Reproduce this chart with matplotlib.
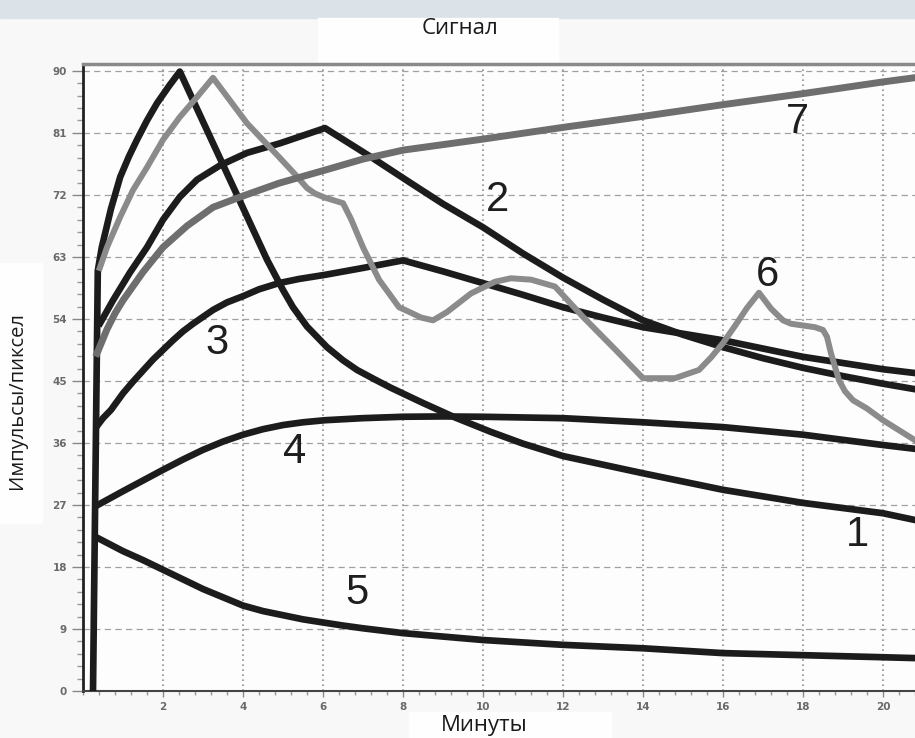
import matplotlib.pyplot as plt
from matplotlib.patches import Rectangle
from matplotlib.ticker import MultipleLocator

# curve 1 - fast peak
x1 = [0.25, 0.37, 0.47, 0.7, 0.93, 1.15, 1.35, 1.6, 1.85, 2.15, 2.42, 3.25, 3.93, 4.6, 5.0, 5.25, 5.6, 6.1, 6.5, 6.85,
      7.3, 7.7, 8.5, 9.3, 10.2, 11, 12, 14, 16, 18, 20, 21.3]
y1 = [0, 61, 64.4, 70, 74.6, 77.6, 80, 82.8, 85.3, 87.8, 89.9, 79.5, 71, 62.6, 58.2, 55.7, 52.9, 49.9, 48, 46.6,
      45.2, 44, 41.8, 39.7, 37.6, 35.9, 34.1, 31.6, 29.2, 27.3, 25.8, 24.2]

# curve 2
x2 = [0.43, 0.75, 1.17, 1.6, 2.0, 2.42, 2.85, 3.43, 4.1, 4.93, 6.05, 7.2, 8.2, 9, 10, 11, 12, 13, 14, 15, 16, 17, 18,
      19, 20, 21.3]
y2 = [53.4, 56.7, 60.7, 64.4, 68.4, 71.7, 74.2, 76.3, 78.1, 79.5, 81.7, 77.5, 73.7, 70.7, 67.3, 63.5, 60, 56.8, 53.8,
      51.7, 49.9, 48.3, 46.9, 45.7, 44.6, 43.3]

# curve 3
x3 = [0.37, 0.5, 0.7, 1.0, 1.25, 1.5, 1.75, 2.0, 2.25, 2.5, 2.75, 3.25, 3.6, 4, 4.4, 4.9, 5.4, 6.05, 7, 8.0, 9, 10, 11,
      12, 13, 14, 16, 18, 20, 21.3]
y3 = [38.6, 39.6, 40.8, 43.2, 44.9, 46.5, 48.1, 49.5, 50.9, 52.2, 53.3, 55.3, 56.4, 57.3, 58.3, 59.2, 59.8, 60.4, 61.4,
      62.5, 60.9, 59.2, 57.5, 55.7, 54.2, 52.8, 50.9, 48.5, 46.7, 45.8]

# curve 4
x4 = [0.37, 1, 2, 2.5, 3, 3.5, 4, 4.5, 5, 5.5, 6.05, 7, 8, 9, 10, 12, 14, 16, 18, 20, 21.3]
y4 = [27, 29, 32.1, 33.6, 35, 36.2, 37.2, 38.0, 38.6, 39, 39.3, 39.6, 39.8, 39.85, 39.8, 39.6, 39, 38.3, 37.2, 35.7,
      34.8]

# curve 5
x5 = [0.37, 1, 1.5, 2, 2.5, 3, 3.5, 4, 4.5, 5, 5.5, 6.05, 6.5, 7, 8, 9, 10, 12, 14, 16, 18, 20, 21.3]
y5 = [22.2, 20.3, 19, 17.6, 16.2, 14.8, 13.6, 12.4, 11.6, 11.0, 10.4, 9.9, 9.5, 9.1, 8.4, 7.9, 7.4, 6.7, 6.2, 5.5,
      5.2, 4.9, 4.7]

# curve 6 (light gray)
x6 = [0.42, 0.6, 0.93, 1.25, 1.6, 2.0, 2.42, 2.85, 3.25, 4.1, 4.9, 5.3, 5.6, 5.8, 6.05, 6.5, 6.7, 7.0, 7.4, 7.9, 8.2,
      8.45, 8.75, 9.1, 9.7, 10.3, 10.7, 11.2, 11.8, 12.5, 13.3, 14, 14.8, 15.4, 15.7, 16, 16.3, 16.6, 16.9, 17.2,
      17.5, 17.7, 18.3, 18.5, 18.6, 18.7, 18.9, 19.05, 19.25, 19.6, 20, 20.8, 21.3]
y6 = [61.4, 64.4, 68.8, 72.7, 76, 80, 83.3, 86.2, 89, 82.4, 77.5, 75, 73, 72.2, 71.6, 70.8, 68.5, 64.4, 59.7, 55.7, 54.9,
      54.2, 53.8, 55, 57.7, 59.4, 59.9, 59.7, 58.7, 54.3, 49.6, 45.4, 45.4, 46.6, 48.4, 50.5, 53, 55.6, 57.8, 55.5,
      53.8, 53.3, 52.8, 52.4, 51.4, 49, 45.1, 43.5, 42.2, 41, 39.3, 36.4, 35.2]

# curve 7 (dark gray)
x7 = [0.35, 0.6, 0.8, 1, 1.5, 2, 2.6, 3.25, 3.93, 4.9, 6.05, 7, 8, 10, 12, 14, 16, 18, 20, 21.3]
y7 = [49, 52.5, 54.8, 56.7, 60.8, 64.4, 67.5, 70.2, 71.7, 73.7, 75.6, 77.2, 78.5, 80.1, 81.8, 83.4, 85.1, 86.7,
      88.4, 89.4]

curve_labels = ['1', '2', '3', '4', '5', '6', '7']
label_x = [19.35, 10.35, 3.35, 5.3, 6.85, 17.1, 17.85]
label_y = [22.6, 71.3, 50.5, 34.7, 14.2, 60.4, 82.6]

fig = plt.figure(figsize=(9.15, 7.38), dpi=100, facecolor='#f8f8f8')

# header strip and white boxes behind the captions
fig.patches.append(Rectangle((0, 1 - 18 / 738), 1, 18 / 738, transform=fig.transFigure,
                             color='#dbe3e9', zorder=-2))
fig.patches.append(Rectangle((318 / 915, 1 - 62 / 738), 240 / 915, 44 / 738, transform=fig.transFigure,
                             color='#fefefe', zorder=-2))
fig.patches.append(Rectangle((0, 1 - 523 / 738), 42 / 915, 260 / 738, transform=fig.transFigure,
                             color='#fefefe', zorder=-2))
fig.patches.append(Rectangle((409 / 915, 0), 202 / 915, 26 / 738, transform=fig.transFigure,
                             color='#fefefe', zorder=-2))

ax = fig.add_axes([83 / 915, 47 / 738, 852 / 915, 627 / 738])
ax.set_facecolor('#fdfdfd')

black = '#1c1c1c'
ax.plot(x1, y1, color=black, lw=4.8, zorder=3)
ax.plot(x2, y2, color=black, lw=4.8, zorder=3)
ax.plot(x3, y3, color=black, lw=4.8, zorder=3)
ax.plot(x4, y4, color=black, lw=4.8, zorder=3)
ax.plot(x5, y5, color=black, lw=4.8, zorder=3)
ax.plot(x6, y6, color='#8b8b8b', lw=4.3, zorder=4)
ax.plot(x7, y7, color='#6e6e6e', lw=5.0, zorder=4)

for t, lx, ly in zip(curve_labels, label_x, label_y):
    ax.text(lx, ly, t, fontsize=30, family='Liberation Sans', color='#1e1e1e',
            ha='center', va='center', zorder=5)

ax.set_xlim(0, 21.3)
ax.set_ylim(0, 91)

ax.xaxis.set_minor_locator(MultipleLocator(0.4))
ax.yaxis.set_major_locator(MultipleLocator(9))
ax.yaxis.set_minor_locator(MultipleLocator(1.8))

ax.set_xticks(range(2, 22, 2))
ax.set_xticklabels([str(v) for v in range(2, 22, 2)])

ax.tick_params(axis='both', which='major', labelsize=7.5, labelcolor='#6a6a6a', color='#888888')
ax.tick_params(axis='y', which='major', length=8, width=1)
ax.tick_params(axis='y', which='minor', length=4, width=1, color='#999999')
ax.tick_params(axis='x', which='major', length=4, width=1, pad=4)
ax.tick_params(axis='x', which='minor', length=3, width=1, color='#999999')
for lab in ax.get_xticklabels() + ax.get_yticklabels():
    lab.set_fontweight('bold')

ax.grid(True, axis='y', which='major', color='#a0a0a0', lw=0.9, linestyle=(0, (5, 3.5)))
ax.grid(True, axis='x', which='major', color='#909090', lw=1.2, linestyle=(0, (1, 2)))
ax.set_axisbelow(True)

ax.spines['left'].set_color('#222222')
ax.spines['left'].set_linewidth(2)
ax.spines['top'].set_color('#8a8a8a')
ax.spines['top'].set_linewidth(2.5)
ax.spines['bottom'].set_color('#444444')
ax.spines['bottom'].set_linewidth(1.5)
ax.spines['right'].set_visible(False)

fig.text(460 / 915, 1 - 29 / 738, 'Сигнал', family='Open Sans', fontsize=16,
         ha='center', va='center', color='#1a1a1a')
fig.text(484 / 915, 1 - 725 / 738, 'Минуты', family='Open Sans', fontsize=16,
         ha='center', va='center', color='#1a1a1a')
fig.text(17 / 915, 1 - 401 / 738, 'Импульсы/пиксел', family='Open Sans', fontsize=14.5,
         ha='center', va='center', rotation=90, color='#1a1a1a')

fig.savefig('out.png', dpi=100, facecolor=fig.get_facecolor())
